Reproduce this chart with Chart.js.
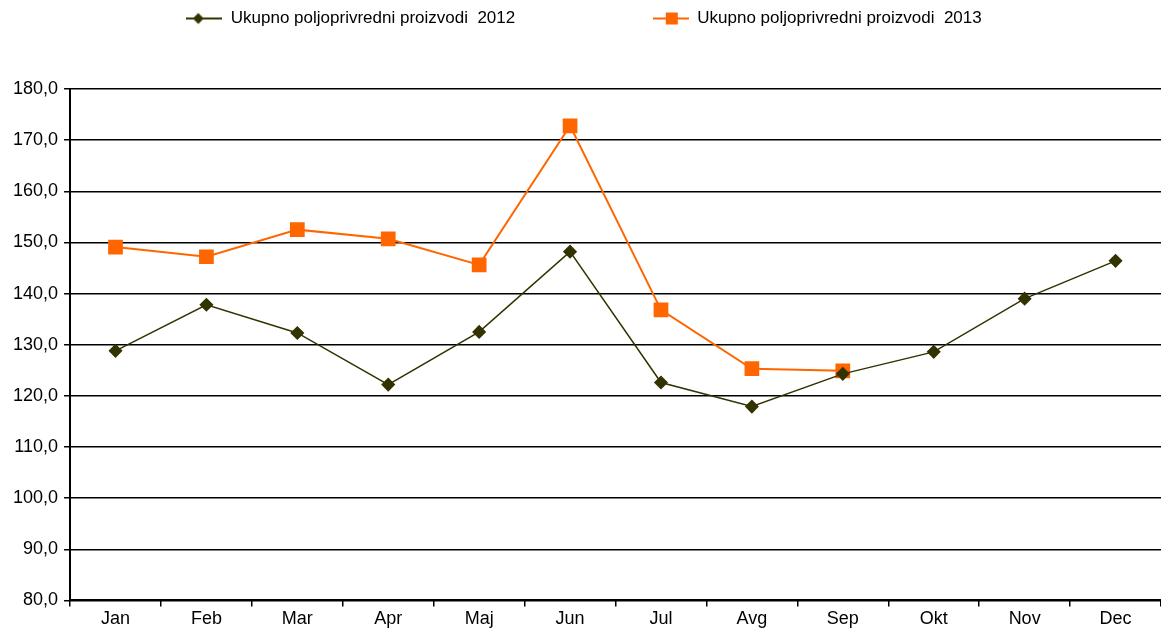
<!DOCTYPE html>
<html>
<head>
<meta charset="utf-8">
<script src="https://cdn.jsdelivr.net/npm/chart.js@4"></script>
<style>
  html, body { margin: 0; padding: 0; background: #fff; overflow: hidden; }
  #wrap { width: 1161px; height: 637px; }
</style>
</head>
<body>
<div id="wrap"><canvas id="grafikon"></canvas></div>
<script>
const mjeseci = ['Jan','Feb','Mar','Apr','Maj','Jun','Jul','Avg','Sep','Okt','Nov','Dec']
const ukupno2012 = [128.8,137.8,132.3,122.2,132.5,148.2,122.6,117.9,124.3,128.6,139.0,146.4]
const ukupno2013 = [149.1,147.2,152.5,150.7,145.6,172.8,136.8,125.3,124.9,null,null,null]
const oznake = ['Ukupno poljoprivredni proizvodi  2012','Ukupno poljoprivredni proizvodi  2013']

// sličica za legendu: linija kroz marker
function legendaIkona(boja, oblik) {
    const c = document.createElement('canvas')
    c.width = 36; c.height = 14
    const g = c.getContext('2d')
    g.strokeStyle = boja
    g.lineWidth = 2
    g.beginPath(); g.moveTo(0, 7); g.lineTo(36, 7); g.stroke()
    g.fillStyle = boja
    if (oblik === 'romb') {
        g.beginPath(); g.moveTo(12, 1.5); g.lineTo(17.5, 7); g.lineTo(12, 12.5); g.lineTo(6.5, 7); g.closePath(); g.fill()
    } else {
        g.fillRect(13, 1, 12, 12)
    }
    return c
}
const ikone = [legendaIkona('#333300','romb'), legendaIkona('#FF6600','kvadrat')]

// dodatni razmak ispod legende
const razmakLegende = {
    id: 'razmakLegende',
    beforeInit(chart) {
        const fit = chart.legend.fit
        chart.legend.fit = function () {
            fit.call(this)
            this.height += 52
        }
    }
}

var grafikon = new Chart(document.getElementById('grafikon'), {
    type: 'line',
    data: {
        labels: mjeseci,
        datasets: [{
            label: oznake[0],
            data: ukupno2012,
            borderColor: '#333300',
            backgroundColor: '#333300',
            borderWidth: 1.5,
            pointStyle: 'rectRot',
            pointRadius: 6,
            pointHoverRadius: 6,
            tension: 0
        },
        {
            label: oznake[1],
            data: ukupno2013,
            borderColor: '#FF6600',
            backgroundColor: '#FF6600',
            borderWidth: 2,
            pointStyle: 'rect',
            pointRadius: 9,
            pointHoverRadius: 9,
            tension: 0
        }]
    },
    options: {
        responsive: true,
        maintainAspectRatio: false,
        animation: false,
        layout: { autoPadding: false, padding: { top: 0, right: 0, left: 7, bottom: 5 } },
        scales: {
            x: {
                offset: true,
                grid: {
                    offset: true,
                    drawOnChartArea: false,
                    drawTicks: true,
                    tickLength: 6,
                    color: '#000',
                    lineWidth: 1.5
                },
                border: { color: '#000', width: 2 },
                ticks: {
                    color: '#000',
                    font: { family: 'Liberation Sans', size: 18 },
                    padding: 2,
                    maxRotation: 0
                }
            },
            y: {
                min: 80,
                max: 180,
                ticks: {
                    stepSize: 10,
                    color: '#000',
                    font: { family: 'Liberation Sans', size: 18 },
                    padding: 6,
                    callback: v => v.toFixed(1).replace('.', ',')
                },
                grid: {
                    color: '#000',
                    lineWidth: 1.5,
                    tickLength: 6
                },
                border: { color: '#000', width: 2 }
            }
        },
        plugins: {
            legend: {
                display: true,
                position: 'top',
                labels: {
                    color: '#000',
                    font: { family: 'Liberation Sans', size: 17 },
                    usePointStyle: true,
                    pointStyleWidth: 36,
                    padding: 10,
                    generateLabels: chart => chart.data.datasets.map((ds, i) => ({
                        text: i === 0 ? ds.label + '\u00a0'.repeat(27) : ds.label,
                        fillStyle: ds.borderColor,
                        strokeStyle: ds.borderColor,
                        pointStyle: ikone[i],
                        fontColor: '#000',
                        datasetIndex: i
                    }))
                }
            },
            tooltip: { enabled: false }
        }
    },
    plugins: [razmakLegende]
})
</script>
</body>
</html>
